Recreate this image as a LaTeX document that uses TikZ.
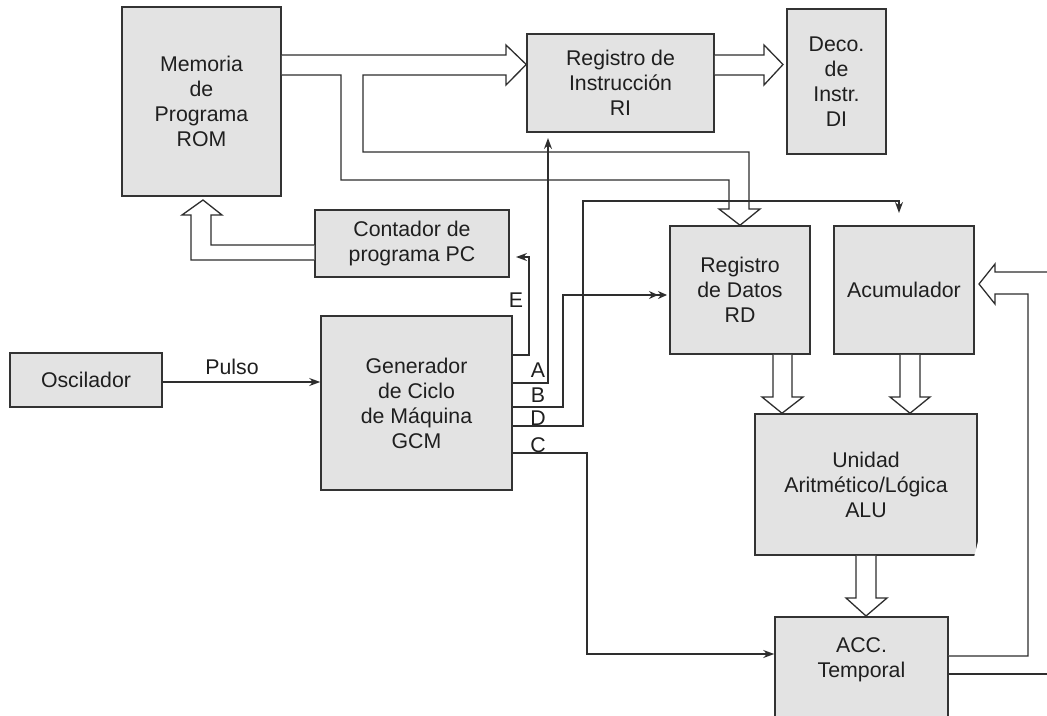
\documentclass[tikz,border=0pt]{standalone}
\usepackage{fontspec}
\setmainfont{Liberation Sans}
\usetikzlibrary{arrows.meta,calc}

\begin{document}
\begin{tikzpicture}[x=1pt,y=-1pt,
  blk/.style={draw=black!80, line width=1.5pt, fill=black!11, inner sep=0pt,
              align=center, font=\fontsize{21.3}{25}\selectfont, text=black!88},
  lbl/.style={font=\fontsize{21.3}{25}\selectfont, text=black!88, inner sep=0pt},
  wire/.style={draw=black!82, line width=1.3pt},
  bus/.style={draw=black!82, line width=1.3pt, fill=white, line join=miter},
  tip/.style={-{Stealth[length=11pt,width=8pt]}},
  dtip/.style={-{Stealth[length=9pt,width=8pt]Stealth[length=9pt,width=8pt]}}
]
\useasboundingbox (0,0) rectangle (1047,715);
\clip (0,0) rectangle (1047,715);

% blocks
\node[blk, minimum width=159pt, minimum height=189pt] (rom) at (201.5,101.5) {Memoria\\de\\Programa\\ROM};
\node[blk, minimum width=187pt, minimum height=98pt] (ri) at (620.5,83) {Registro de\\Instrucción\\RI};
\node[blk, minimum width=99pt, minimum height=145pt] (di) at (836.5,81.5) {Deco.\\de\\Instr.\\DI};
\node[blk, minimum width=194pt, minimum height=67pt] (pc) at (412,243.5) {Contador de\\programa PC};
\node[blk, minimum width=152pt, minimum height=54pt] (osc) at (86,380) {Oscilador};
\node[blk, minimum width=191pt, minimum height=174pt] (gcm) at (416.5,403) {Generador\\de Ciclo\\de Máquina\\GCM};
\node[blk, minimum width=140pt, minimum height=128pt] (rd) at (740,290) {Registro\\de Datos\\RD};
\node[blk, minimum width=140pt, minimum height=128pt] (acu) at (904,290) {Acumulador};
\node[blk, minimum width=222pt, minimum height=141pt] (alu) at (866,484.5) {Unidad\\Aritmético/Lógica\\ALU};
\node[blk, minimum width=173pt, minimum height=124pt, anchor=north] (acc) at (861.5,616) {};
\node[lbl, align=center, font=\fontsize{21.3}{25}\selectfont] (acct) at (861.5,660) {ACC.\\Temporal};

% wide buses: ROM to RI and to RD
\draw[bus] (rom.east|-0,55) -- (506,55) -- (506,45) -- (ri.west|-0,64.5) -- (506,85) -- (506,75)
  -- (363,75) -- (363,152) -- (749,152) -- (749,209) -- (760,209) -- (rd.north-|740,0)
  -- (719,209) -- (729,209) -- (729,180) -- (341,180) -- (341,75) -- (rom.east|-0,75);
% RI to DI
\draw[bus] (ri.east|-0,55) -- (764,55) -- (764,45) -- (783,64.5) -- (764,85) -- (764,75) -- (ri.east|-0,75);
% PC to ROM
\draw[bus] (pc.west|-0,245) -- (211,245) -- (211,215) -- (222,215) -- (203,200) -- (182,215)
  -- (191,215) -- (191,260) -- (pc.west|-0,260);
% RD and Acumulador to ALU
\draw[bus] (rd.south-|773,0) -- (773,397) -- (762,397) -- (alu.north-|782,0) -- (803,397) -- (792,397) -- (rd.south-|792,0);
\draw[bus] (acu.south-|900,0) -- (900,397) -- (890,397) -- (alu.north-|910,0) -- (930,397) -- (920,397) -- (acu.south-|920,0);
% ALU to ACC
\draw[bus] (alu.south-|856,0) -- (856,598) -- (846,598) -- (acc.north-|866,0) -- (887,598) -- (876,598) -- (alu.south-|876,0);
% ACC back to Acumulador
\draw[bus] (1047,272) -- (995,272) -- (995,264) -- (979,284) -- (995,304) -- (995,294)
  -- (1028,294) -- (1028,656) -- (acc.east|-0,656);
\draw[wire] (acc.east|-0,674) -- (1047,674);

% control lines
\draw[wire,tip] (osc.east|-0,382) -- (gcm.west|-0,382);
\node[lbl] (pulso) at (232,367) {Pulso};
\draw[wire,tip] (gcm.east|-0,355) -- (529,355) -- (529,257) -- (516,257);
\draw[wire,tip] (gcm.east|-0,383) -- (548,383) -- (548,138);
\draw[wire,dtip] (gcm.east|-0,407) -- (563,407) -- (563,295) -- (667,295);
\draw[wire,tip] (gcm.east|-0,426) -- (583,426) -- (583,201) -- (899,201) -- (899,213);
\draw[wire,tip] (gcm.east|-0,453) -- (587,453) -- (587,654) -- (acc.west|-0,654);

% signal names
\node[lbl] (le) at (516,300) {E};
\node[lbl] (la) at (538,370) {A};
\node[lbl] (lb) at (538,395) {B};
\node[lbl] (ld) at (538,418) {D};
\node[lbl] (lc) at (538,445) {C};
\end{tikzpicture}
\end{document}
